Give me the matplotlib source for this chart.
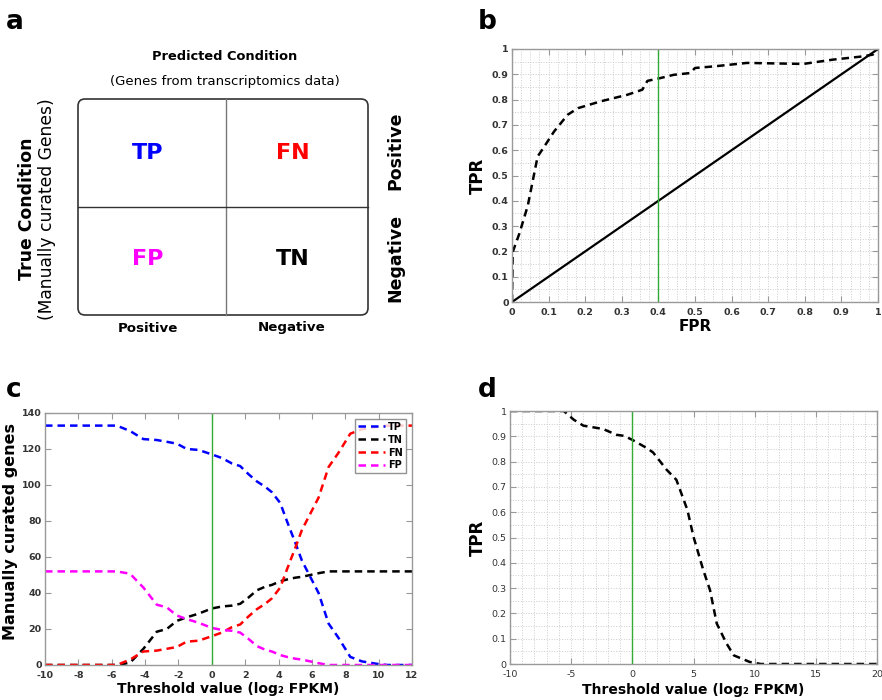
"""Confusion matrix sketch, ROC curve and threshold sweeps (4 panels)."""

import matplotlib
matplotlib.use("Agg")
import matplotlib.pyplot as plt
from matplotlib.patches import FancyBboxPatch
from matplotlib.ticker import MultipleLocator, FuncFormatter

plt.rcParams["font.family"] = "DejaVu Sans"
plt.rcParams["axes.unicode_minus"] = False

# ---- data -------------------------------------------------------------
# panel b: ROC curve
roc_fpr = [0, 0.002, 0.02, 0.043, 0.07, 0.088, 0.115, 0.152, 0.18, 0.242,
           0.315, 0.356, 0.37, 0.405, 0.442, 0.487, 0.5, 0.55, 0.642, 0.796,
           0.877, 0.96, 0.986, 1.0]
roc_tpr = [0, 0.198, 0.27, 0.38, 0.575, 0.614, 0.674, 0.74, 0.766, 0.793,
           0.819, 0.839, 0.874, 0.885, 0.898, 0.905, 0.925, 0.931, 0.945, 0.941,
           0.958, 0.971, 0.978, 1.0]
roc_cutoff = 0.4

# panel c: counts of manually curated genes vs threshold
thresholds = [-10, -5.7, -4.9, -4.1, -3.3, -2.7, -2.1, -1.5, -0.8, 0, 0.6, 1.2,
              1.7, 2.2, 2.7, 3.2, 3.6, 4.1, 4.5, 5.0, 5.4, 5.9, 6.4, 7.0, 7.6,
              8.3, 9.0, 10.0, 10.5, 12]
tp_counts = [133, 133, 130, 125.5, 125, 124, 123, 120, 119.5, 117, 115, 112,
             110.5, 106, 102, 99, 96, 90, 80, 68, 58, 49, 40, 23, 15,
             4.5, 2, 0.5, 0, 0]
tn_counts = [0, 0, 1.3, 9, 18.5, 20, 24.5, 26.5, 28.5, 31.4, 32.5, 33,
             34, 37.5, 41.5, 43.5, 44.5, 46.5, 47.5, 48.5, 49, 50, 51, 52, 52,
             52, 52, 52, 52, 52]
fn_counts = [0, 0, 3, 7.5, 8, 9, 10, 13, 13.5, 16, 18, 21,
             22.5, 27, 31, 34, 37, 43, 53, 65, 75, 84, 93, 110, 118,
             128.5, 131, 132.5, 133, 133]
fp_counts = [52, 52, 50.7, 43, 33.5, 32, 27.5, 25.5, 23.5, 20.6, 19.5, 19,
             18, 14.5, 10.5, 8.5, 7.5, 5.5, 4.5, 3.5, 3, 2, 1, 0, 0,
             0, 0, 0, 0, 0]
series_c = [("TP", tp_counts, "blue"), ("TN", tn_counts, "black"),
            ("FN", fn_counts, "red"), ("FP", fp_counts, "magenta")]

# panel d: TPR vs threshold
tpr_thr = [-10, -5.6, -4.8, -4.0, -2.4, -1.3, -0.7, 0, 1.2, 1.7, 2.8, 3.6,
           4.5, 5.0, 5.8, 6.35, 6.9, 7.7, 8.3, 9.6, 10.5, 20]
tpr_val = [1, 1, 0.966, 0.942, 0.929, 0.906, 0.902, 0.886, 0.853, 0.836, 0.768,
           0.728, 0.609, 0.503, 0.371, 0.292, 0.160, 0.081, 0.034, 0.008, 0, 0]
thr_cutoff = 0

# ---- figure -----------------------------------------------------------
W, H = 882, 700
fig = plt.figure(figsize=(W / 100, H / 100), dpi=100)

GREEN = "#33aa33"
TICK_COL = "#333333"
SPINE_COL = "#999999"
DASH = (0, (3, 2))


def axes_px(x0, y0, x1, y1):
    """Add axes from pixel box (top-left origin)."""
    return fig.add_axes([x0 / W, 1 - y1 / H, (x1 - x0) / W, (y1 - y0) / H])


def style_axes(ax, bold_ticks=True):
    ax.tick_params(which="both", direction="in", top=True, right=True,
                   colors=SPINE_COL, labelcolor=TICK_COL, labelsize=6.8,
                   pad=2.5)
    ax.tick_params(axis="x", pad=4)
    ax.tick_params(which="major", length=4)
    ax.tick_params(which="minor", length=0)
    for lab in ax.get_xticklabels() + ax.get_yticklabels():
        lab.set_fontweight("bold" if bold_ticks else "normal")
    for sp in ax.spines.values():
        sp.set_color(SPINE_COL)
        sp.set_linewidth(1)


fmt_g = FuncFormatter(lambda v, _: f"{v:g}")

# ---- panel a: confusion matrix ----------------------------------------
ax_a = fig.add_axes([0, 0.5, 0.5, 0.5])
ax_a.set_xlim(0, 441)
ax_a.set_ylim(350, 0)
ax_a.axis("off")
ax_a.add_patch(FancyBboxPatch((78, 99), 290, 216,
                              boxstyle="round,pad=0,rounding_size=7",
                              fc="none", ec="#333333", lw=1.2))
ax_a.plot([226, 226], [99, 315], color="#777777", lw=1)
ax_a.plot([78, 368], [207, 207], color="#333333", lw=1)
ax_a.text(225, 56, "Predicted Condition", ha="center", va="center",
          fontsize=9.4, fontweight="bold")
ax_a.text(225, 82, "(Genes from transcriptomics data)", ha="center",
          va="center", fontsize=9.5)
for label, x, y, c in [("TP", 148, 153, "blue"), ("FN", 293, 153, "red"),
                       ("FP", 148, 259, "magenta"), ("TN", 293, 259, "black")]:
    ax_a.text(x, y, label, ha="center", va="center", fontsize=16,
              fontweight="bold", color=c)
ax_a.text(148, 328, "Positive", ha="center", va="center", fontsize=9.6,
          fontweight="bold")
ax_a.text(292, 328, "Negative", ha="center", va="center", fontsize=9.6,
          fontweight="bold")
ax_a.text(395, 151, "Positive", ha="center", va="center", rotation=90,
          fontsize=12.5, fontweight="bold")
ax_a.text(395, 258, "Negative", ha="center", va="center", rotation=90,
          fontsize=12.5, fontweight="bold")
ax_a.text(27, 209, "True Condition", ha="center", va="center", rotation=90,
          fontsize=12.4, fontweight="bold")
ax_a.text(47, 209, "(Manually curated Genes)", ha="center", va="center",
          rotation=90, fontsize=12.3)

# ---- panel b: ROC ------------------------------------------------------
ax_b = axes_px(512, 49, 878, 302)
ax_b.plot([0, 1], [0, 1], color="black", lw=1.6)
ax_b.plot(roc_fpr, roc_tpr, color="black", lw=1.8, ls=DASH)
ax_b.axvline(roc_cutoff, color=GREEN, lw=1)
ax_b.set_xlim(0, 1)
ax_b.set_ylim(0, 1)
ax_b.xaxis.set_major_locator(MultipleLocator(0.1))
ax_b.yaxis.set_major_locator(MultipleLocator(0.1))
ax_b.xaxis.set_minor_locator(MultipleLocator(0.025))
ax_b.yaxis.set_minor_locator(MultipleLocator(0.05))
ax_b.xaxis.set_major_formatter(fmt_g)
ax_b.yaxis.set_major_formatter(fmt_g)
ax_b.grid(which="both", ls=":", color="#cccccc", lw=0.7)
ax_b.set_axisbelow(True)
ax_b.set_xlabel("FPR", fontsize=11, fontweight="bold", labelpad=2)
ax_b.set_ylabel("TPR", fontsize=12, fontweight="bold", labelpad=3)
style_axes(ax_b)

# ---- panel c: counts vs threshold --------------------------------------
ax_c = axes_px(45, 413, 412, 665)
for name, vals, col in series_c:
    ax_c.plot(thresholds, vals, color=col, lw=1.8, ls=DASH, label=name)
ax_c.axvline(thr_cutoff, color=GREEN, lw=1)
ax_c.set_xlim(-10, 12)
ax_c.set_ylim(0, 140)
ax_c.xaxis.set_major_locator(MultipleLocator(2))
ax_c.yaxis.set_major_locator(MultipleLocator(20))
ax_c.set_xlabel("Threshold value (log₂ FPKM)", fontsize=10,
                fontweight="bold", labelpad=2)
ax_c.set_ylabel("Manually curated genes", fontsize=11.5, fontweight="bold",
                va="center")
ax_c.yaxis.set_label_coords(-0.095, 0.53)
leg = ax_c.legend(loc="upper right", fontsize=7, handlelength=2.8,
                  borderaxespad=0.6, fancybox=False, labelspacing=0.3,
                  handletextpad=0.3, borderpad=0.3)
leg.get_frame().set_edgecolor("#777777")
for t in leg.get_texts():
    t.set_fontweight("bold")
style_axes(ax_c)

# ---- panel d: TPR vs threshold -----------------------------------------
ax_d = axes_px(510, 411, 877, 664)
ax_d.plot(tpr_thr, tpr_val, color="black", lw=1.8, ls=DASH)
ax_d.axvline(thr_cutoff, color=GREEN, lw=1)
ax_d.set_xlim(-10, 20)
ax_d.set_ylim(0, 1)
ax_d.xaxis.set_major_locator(MultipleLocator(5))
ax_d.yaxis.set_major_locator(MultipleLocator(0.1))
ax_d.xaxis.set_minor_locator(MultipleLocator(1))
ax_d.yaxis.set_minor_locator(MultipleLocator(0.05))
ax_d.xaxis.set_major_formatter(fmt_g)
ax_d.yaxis.set_major_formatter(fmt_g)
ax_d.grid(which="both", ls=":", color="#cccccc", lw=0.7)
ax_d.set_axisbelow(True)
ax_d.set_xlabel("Threshold value (log₂ FPKM)", fontsize=10,
                fontweight="bold", labelpad=3)
ax_d.set_ylabel("TPR", fontsize=12, fontweight="bold", labelpad=3)
style_axes(ax_d, bold_ticks=False)

# ---- panel letters ------------------------------------------------------
for letter, x, y in [("a", 6, 22), ("b", 478, 22), ("c", 6, 390), ("d", 478, 390)]:
    fig.text(x / W, 1 - y / H, letter, fontsize=19, fontweight="bold",
             va="center", ha="left")

fig.savefig("out.png", dpi=100)
